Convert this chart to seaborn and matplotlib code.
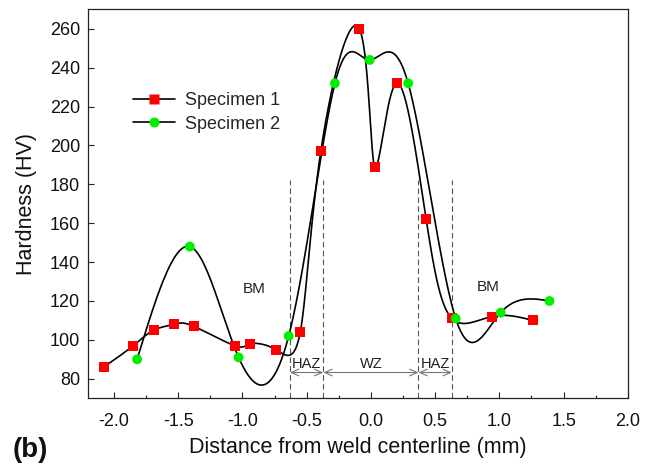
import numpy as np
import pandas as pd
import matplotlib
matplotlib.use("Agg")
import matplotlib.pyplot as plt
from matplotlib.lines import Line2D
from matplotlib.ticker import MultipleLocator
import seaborn as sns

# Microhardness traverse across the weld
x_spec1 = [-2.08, -1.85, -1.69, -1.53, -1.38, -1.06, -0.94, -0.74, -0.55,
           -0.39, -0.09, 0.03, 0.20, 0.43, 0.63, 0.94, 1.26]
hv_spec1 = [86, 97, 105, 108, 107, 97, 98, 95, 104,
            197, 260, 189, 232, 162, 111, 112, 110]

x_spec2 = [-1.82, -1.41, -1.03, -0.64, -0.28, -0.01, 0.29, 0.66, 1.01, 1.39]
hv_spec2 = [90, 148, 91, 102, 232, 244, 232, 111, 114, 120]

series_names = ["Specimen 1", "Specimen 2"]
zone_bounds = [-0.63, -0.37, 0.37, 0.63]
x_ticks = [-2.0, -1.5, -1.0, -0.5, 0.0, 0.5, 1.0, 1.5, 2.0]
y_ticks = [80, 100, 120, 140, 160, 180, 200, 220, 240, 260]


def natural_cubic(t, v, ts):
    """Evaluate the natural cubic spline through (t, v) at ts."""
    t = np.asarray(t, float)
    v = np.asarray(v, float)
    k = len(t)
    h = np.diff(t)
    A = np.zeros((k, k))
    b = np.zeros(k)
    A[0, 0] = 1.0
    A[-1, -1] = 1.0
    for i in range(1, k - 1):
        A[i, i - 1] = h[i - 1]
        A[i, i] = 2 * (h[i - 1] + h[i])
        A[i, i + 1] = h[i]
        b[i] = 6 * ((v[i + 1] - v[i]) / h[i] - (v[i] - v[i - 1]) / h[i - 1])
    M = np.linalg.solve(A, b)
    idx = np.clip(np.searchsorted(t, ts) - 1, 0, k - 2)
    t0, t1 = t[idx], t[idx + 1]
    hh = t1 - t0
    a0 = t1 - ts
    a1 = ts - t0
    return (M[idx] * a0 ** 3 / (6 * hh) + M[idx + 1] * a1 ** 3 / (6 * hh)
            + (v[idx] / hh - M[idx] * hh / 6) * a0
            + (v[idx + 1] / hh - M[idx + 1] * hh / 6) * a1)


def smooth_curve(x, y, n=1200):
    """Parametric spline through the points, parameterised by point index."""
    t = np.arange(len(x), dtype=float)
    ts = np.linspace(0, t[-1], n)
    return natural_cubic(t, x, ts), natural_cubic(t, y, ts)


sns.set_theme(style="ticks")
plt.rcParams["font.family"] = ["Liberation Sans", "DejaVu Sans"]
plt.rcParams["axes.edgecolor"] = "#222222"
plt.rcParams["axes.linewidth"] = 0.9

fig, ax = plt.subplots(figsize=(6.54, 4.69), dpi=100)
fig.subplots_adjust(left=0.135, right=0.960, top=0.980, bottom=0.151)

points1 = pd.DataFrame({"x": x_spec1, "hv": hv_spec1})
points2 = pd.DataFrame({"x": x_spec2, "hv": hv_spec2})
sx1, sy1 = smooth_curve(x_spec1, hv_spec1)
sx2, sy2 = smooth_curve(x_spec2, hv_spec2)
curve1 = pd.DataFrame({"x": sx1, "hv": sy1})
curve2 = pd.DataFrame({"x": sx2, "hv": sy2})

sns.lineplot(data=curve1, x="x", y="hv", ax=ax, color="black", lw=1.2,
             sort=False, estimator=None, zorder=2)
sns.lineplot(data=curve2, x="x", y="hv", ax=ax, color="black", lw=1.2,
             sort=False, estimator=None, zorder=2)
sns.scatterplot(data=points1, x="x", y="hv", ax=ax, marker="s", s=52,
                color="#ff0000", edgecolor="none", linewidth=0, zorder=3)
sns.scatterplot(data=points2, x="x", y="hv", ax=ax, marker="o", s=50,
                color="#00ee00", edgecolor="none", linewidth=0, zorder=4)

# Zone boundaries and annotations
ax.vlines(zone_bounds, 70, 182, colors="#555555", lw=0.8,
          linestyles=[(0, (5, 3))], zorder=1)
arrow_y = 83.2
spans = [(zone_bounds[0], zone_bounds[1], "HAZ"),
         (zone_bounds[1], zone_bounds[2], "WZ"),
         (zone_bounds[2], zone_bounds[3], "HAZ")]
for x0, x1, lab in spans:
    ax.annotate("", xy=(x1, arrow_y), xytext=(x0, arrow_y),
                arrowprops=dict(arrowstyle="<->,head_length=0.45,head_width=0.2",
                                color="#777777", lw=0.8, shrinkA=0, shrinkB=0))
    ax.text((x0 + x1) / 2, arrow_y + 1.0, lab, ha="center", va="bottom",
            fontsize=10.5, color="#222222")
ax.text(-0.906, 126.4, "BM", ha="center", va="center", fontsize=11, color="#222222")
ax.text(0.914, 127.2, "BM", ha="center", va="center", fontsize=11, color="#222222")

ax.set_xlim(-2.2, 2.0)
ax.set_ylim(70, 270)
ax.set_xticks(x_ticks)
ax.set_xticklabels([f"{v:.1f}" for v in x_ticks])
ax.set_yticks(y_ticks)
ax.xaxis.set_minor_locator(MultipleLocator(0.25))
ax.tick_params(axis="both", which="major", direction="in", length=4.5, width=0.8,
               labelsize=13, color="#222222", labelcolor="#111111")
ax.tick_params(axis="x", which="major", pad=11)
ax.tick_params(axis="y", which="major", pad=6)
ax.tick_params(axis="x", which="minor", direction="in", length=2.5, width=0.8,
               color="#222222")
ax.set_xlabel("Distance from weld centerline (mm)", fontsize=15.5, labelpad=5,
              color="#111111")
ax.set_ylabel("Hardness (HV)", fontsize=15.5, labelpad=9, color="#111111")

handles = [
    Line2D([], [], color="black", lw=1.2, marker="s", markersize=7,
           markerfacecolor="#ff0000", markeredgecolor="none"),
    Line2D([], [], color="black", lw=1.2, marker="o", markersize=7.2,
           markerfacecolor="#00ee00", markeredgecolor="none"),
]
ax.legend(handles, series_names, loc="upper left", bbox_to_anchor=(0.083, 0.787),
          frameon=False, fontsize=13, handlelength=2.3, handletextpad=0.6,
          labelspacing=0.35, borderpad=0, borderaxespad=0)

fig.text(0.02, 0.0405, "(b)", fontsize=20, fontweight="bold", ha="left",
         va="center", color="#111111")

fig.savefig("out.png", dpi=100)
